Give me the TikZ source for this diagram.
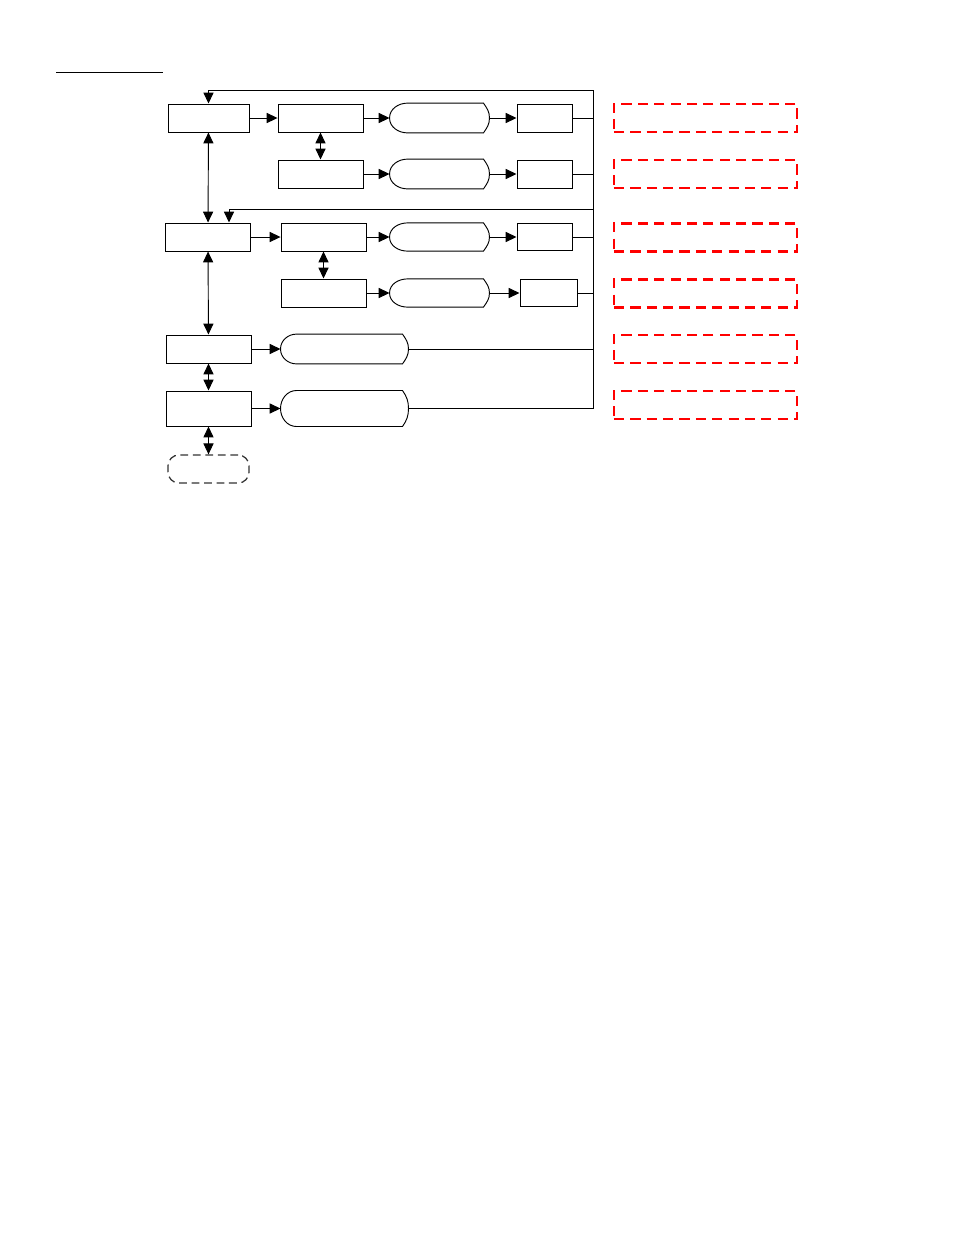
\documentclass[tikz,border=0pt]{standalone}
\usepackage{tikz}
\usetikzlibrary{calc,arrows.meta,positioning}

% outline of a display shape round a (plain) node
\newcommand{\dispbox}[2]{%
\draw ($(#1.north west)+(#2,0)$) -- ($(#1.north east)+(-6,0)$)
  to[out=-55,in=90] (#1.east) to[out=-90,in=55] ($(#1.south east)+(-6,0)$)
  -- ($(#1.south west)+(#2,0)$) to[out=180,in=-90] (#1.west)
  to[out=90,in=180] ($(#1.north west)+(#2,0)$) -- cycle;}

\begin{document}
\begin{tikzpicture}[x=0.6415pt,y=0.6415pt,line width=0.6pt,
  blk/.style={draw,rectangle,inner sep=0pt,minimum height=18pt},
  disp/.style={rectangle,inner sep=0pt,minimum height=18.5pt},
  note/.style={draw=red,dashed,dash pattern=on 6.5pt off 4pt,line width=1.4pt,rectangle,inner sep=0pt,minimum width=117.4pt,minimum height=18pt},
  term/.style={draw=black!80,dashed,dash pattern=on 5pt off 3pt,line width=0.8pt,rounded corners=7pt,inner sep=0pt,minimum width=52pt,minimum height=18pt},
  conn/.style={-{Triangle[length=7pt,width=6.5pt]}},
  biconn/.style={{Triangle[length=7pt,width=6.5pt]}-{Triangle[length=7pt,width=6.5pt]}}]

\useasboundingbox (0,0) rectangle (954,-1235);

% Header rule
\draw (56,-72) -- (163,-72);

% Left column
\node[blk,minimum width=52pt] (a1) at (208.5,-118) {};
\node[blk,minimum width=54pt] (a2) at (208,-237) {};
\node[blk,minimum width=54.5pt] (a3) at (208.5,-349) {};
\node[blk,minimum width=54.5pt,minimum height=22.5pt] (a4) at (208.5,-408.5) {};
\node[term] (e) at (208.5,-469) {};

% Second column
\node[blk,minimum width=54.5pt] (b1) at (320.5,-118) {};
\node[blk,minimum width=54.5pt] (b2) at (320.5,-174) {};
\node[blk,minimum width=54.5pt] (b3) at (323.5,-237) {};
\node[blk,minimum width=54.5pt] (b4) at (323.5,-293) {};

% Display shapes
\node[disp,minimum width=63.5pt] (s1) at (439.5,-118) {};
\node[disp,minimum width=63.5pt] (s2) at (439.5,-174) {};
\node[disp,minimum width=63.5pt,minimum height=17.5pt] (s3) at (439.5,-237) {};
\node[disp,minimum width=63.5pt,minimum height=17.5pt] (s4) at (439.5,-293) {};
\node[disp,minimum width=81.5pt] (d1) at (344.5,-349) {};
\node[disp,minimum width=81.5pt,minimum height=22.5pt] (d2) at (344.5,-408.5) {};
\dispbox{s1}{18}
\dispbox{s2}{18}
\dispbox{s3}{18}
\dispbox{s4}{18}
\dispbox{d1}{16}
\dispbox{d2}{16}

% Right column
\node[blk,minimum width=35.3pt] (c1) at (544.5,-118) {};
\node[blk,minimum width=35.3pt] (c2) at (544.5,-174) {};
\node[blk,minimum width=35.3pt,minimum height=17.5pt] (c3) at (544.5,-237) {};
\node[blk,minimum width=36.6pt,minimum height=17.5pt] (c4) at (548.5,-293) {};

% Red notes
\node[note] (r1) at (705.5,-118) {};
\node[note] (r2) at (705.5,-174) {};
\node[note] (r3) at (705.5,-237.5) {};
\node[note] (r4) at (705.5,-293.5) {};
\node[note] (r5) at (705.5,-349) {};
\node[note] (r6) at (705.5,-405) {};

% Bus on the right
\coordinate (top) at (593,-90);
\coordinate (fb) at (593,-209);
\coordinate (bot) at (593,-408.5);
\draw (top) -- (bot);

% Forward flow
\draw[conn] (a1) -- (b1);
\draw[conn] (b1) -- (s1);
\draw[conn] (s1) -- (c1);
\draw[conn] (b2) -- (s2);
\draw[conn] (s2) -- (c2);
\draw[conn] (a2) -- (b3);
\draw[conn] (b3) -- (s3);
\draw[conn] (s3) -- (c3);
\draw[conn] (b4) -- (s4);
\draw[conn] (s4) -- (c4);
\draw[conn] (a3) -- (d1);
\draw[conn] (a4) -- (d2);

% Into the bus
\draw (c1.east) -- (c1.east -| top);
\draw (c2.east) -- (c2.east -| top);
\draw (c3.east) -- (c3.east -| top);
\draw (c4.east) -- (c4.east -| top);
\draw (d1.east) -- (d1.east -| top);
\draw (d2.east) -- (bot);

% Feedback
\draw[conn] (top) -| (a1.north);
\draw[conn] (fb) -| ($(a2.north)+(21,0)$);

% Two-way links
\draw[biconn] (a1) -- (a2);
\draw[biconn] (a2) -- (a3);
\draw[biconn] (a3) -- (a4);
\draw[biconn] (a4) -- (e);
\draw[biconn] (b1) -- (b2);
\draw[biconn] (b3) -- (b4);

\end{tikzpicture}
\end{document}
